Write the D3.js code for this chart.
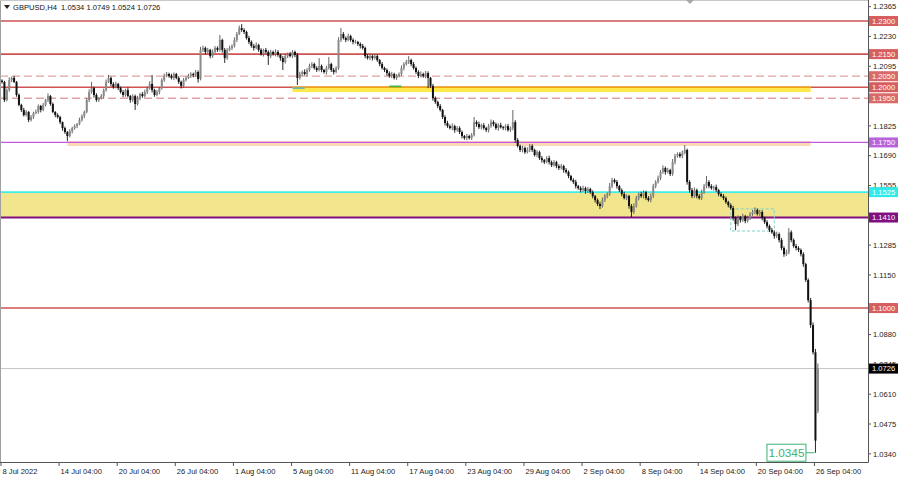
<!DOCTYPE html>
<html><head><meta charset="utf-8">
<script src="https://cdn.jsdelivr.net/npm/d3@7"></script>
<style>body{margin:0;background:#fff}svg{display:block}text{font-family:"Liberation Sans",Arial,sans-serif}</style>
</head><body><svg id="c" width="900" height="477"></svg>
<script>
// ---------- DATA ----------
const symbol = "GBPUSD,H4";
const headerValues = ["1.0534", "1.0749", "1.0524", "1.0726"];
const firstOpen = 12030; // pips (x 1e-4)
const lastBarOpen = 10534;
const closes = [
12024,11942,11987,12033,12042,12024,11965,11920,11897,11874,
11888,11852,11865,11883,11888,11915,11897,11920,11942,11960,
11924,11888,11874,11865,11842,11815,11797,11779,11801,11815,
11824,11833,11852,11870,11888,11942,11978,11996,11965,11942,
11951,11960,11987,12024,12042,12015,12001,12015,11996,11978,
11965,11987,11960,11942,11960,11924,11951,11969,11960,11978,
11996,12015,11987,11965,11978,11996,12033,12051,12060,12051,
12042,12060,12042,12024,12006,12033,12042,12051,12060,12055,
12069,12037,12169,12178,12160,12169,12141,12160,12178,12169,
12214,12169,12132,12169,12178,12187,12214,12241,12268,12259,
12250,12223,12205,12187,12178,12191,12169,12150,12169,12160,
12141,12160,12150,12160,12146,12132,12114,12141,12150,12141,
12160,12146,12042,12060,12069,12060,12078,12096,12105,12087,
12078,12096,12078,12069,12087,12105,12078,12069,12087,12214,
12241,12223,12214,12232,12214,12205,12205,12196,12187,12178,
12141,12132,12141,12132,12141,12123,12105,12087,12078,12064,
12051,12060,12042,12051,12060,12087,12105,12114,12123,12105,
12087,12069,12051,12060,12051,12064,12042,12006,11951,11933,
11915,11897,11865,11838,11824,11815,11824,11806,11815,11797,
11779,11770,11779,11770,11783,11842,11833,11819,11828,11815,
11806,11824,11842,11833,11815,11828,11819,11815,11824,11806,
11815,11842,11761,11734,11716,11725,11706,11716,11734,11716,
11693,11706,11679,11670,11661,11679,11661,11647,11661,11643,
11634,11643,11625,11616,11598,11580,11571,11552,11543,11534,
11543,11530,11539,11525,11507,11489,11471,11462,11489,11507,
11516,11552,11580,11571,11552,11534,11516,11498,11507,11462,
11435,11462,11498,11516,11507,11525,11498,11489,11507,11552,
11571,11589,11616,11634,11616,11625,11607,11661,11688,11697,
11688,11702,11716,11571,11534,11507,11534,11507,11498,11525,
11552,11571,11552,11543,11548,11534,11516,11507,11498,11480,
11466,11453,11408,11380,11408,11398,11416,11394,11408,11426,
11435,11444,11426,11435,11408,11389,11371,11353,11343,11326,
11335,11308,11272,11244,11253,11343,11308,11281,11272,11263,
11244,11199,11127,11036,10923,10800,10400,10726];
const wickHigh = [
6,5,8,12,6,9,4,7,5,10, 8,4,9,6,11,7,5,9,6,12, 5,7,4,8,6,3,7,5,9,6, 8,5,10,7,6,9,12,28,6,8,
5,9,7,11,14,6,8,10,5,7, 9,6,12,5,8,7,10,6,9,11, 7,12,40,6,9,5,8,11,9,6, 10,7,5,8,6,9,7,10,8,6,
9,7,14,10,6,9,5,11,8,7, 23,6,9,8,10,7,12,9,11,18, 8,6,10,7,9,12,6,8,5,9, 7,10,6,12,8,5,9,11,7,10,
8,6,9,10,7,12,8,11,9,6, 8,36,7,5,10,32,6,9,8,12, 27,9,7,11,6,8,10,5,7,9, 6,9,12,7,10,8,5,9,6,7,
8,10,6,9,7,11,8,10,18,6, 9,7,8,12,6,10,8,5,9,7, 6,9,5,8,10,7,12,6,9,8, 7,5,9,6,10,23,8,11,7,9,
6,10,12,8,7,9,11,6,8,10, 7,55,9,8,6,10,7,12,9,8, 6,9,7,10,5,8,11,7,9,6, 8,10,6,9,7,5,8,10,6,9,
11,7,9,6,8,5,7,10,12,9, 8,14,10,7,9,6,8,11,7,6, 9,12,10,7,11,8,6,9,12,10, 8,11,9,12,7,10,6,14,10,8,
9,11,22,6,8,10,12,7,9,11, 10,27,8,9,7,11,6,8,9,7, 6,8,10,7,12,9,11,6,10,8, 9,12,7,10,8,6,9,7,10,8,
11,7,9,8,12,19,9,7,10,8, 7,9,6,8,10,12,15,23];
const wickLow = [
8,9,6,7,10,5,8,6,9,7, 6,10,7,9,5,8,11,6,7,9, 8,6,10,7,9,12,8,23,6,10, 7,9,5,8,10,6,9,7,12,8,
9,6,10,7,5,11,8,6,9,7, 10,8,6,12,9,27,7,10,8,6, 9,7,11,8,6,10,7,9,5,8, 7,10,6,9,12,8,7,5,9,10,
8,16,6,9,11,7,10,8,6,9, 7,12,22,8,6,10,7,9,5,8, 9,7,10,8,12,6,9,7,11,8, 40,9,7,10,8,12,36,7,9,6,
8,10,32,7,9,6,11,8,10,7, 9,6,10,8,12,7,9,11,6,8, 9,7,10,6,8,11,7,9,12,8, 10,7,9,11,6,8,10,7,9,12,
8,10,7,9,6,8,11,7,9,10, 7,9,10,6,8,11,46,9,12,8, 10,7,9,11,8,6,10,12,7,9, 11,8,10,7,9,6,12,8,10,7,
9,11,7,10,8,12,6,9,11,7, 8,10,12,7,9,11,8,6,10,9, 7,10,8,12,9,6,11,8,7,10, 9,7,12,8,10,6,9,11,8,10,
7,12,9,8,10,11,9,14,7,8, 10,8,9,7,11,8,10,6,9,12, 23,9,7,10,8,11,9,7,10,8, 9,7,10,8,12,6,9,8,10,7,
8,10,6,12,11,9,8,10,7,9, 8,10,9,7,11,8,10,6,9,8, 10,8,12,27,9,11,8,10,7,9, 8,10,7,9,11,8,10,9,7,12,
9,11,10,12,8,9,10,8,11,9, 10,12,9,11,13,10,55,10];

const timeTickIndex = [0,24,48,72,96,120,144,168,192,216,240,264,288,312,336];
const timeTickLabels = ["8 Jul 2022","14 Jul 04:00","20 Jul 04:00","26 Jul 04:00","1 Aug 04:00",
  "5 Aug 04:00","11 Aug 04:00","17 Aug 04:00","23 Aug 04:00","29 Aug 04:00","2 Sep 04:00",
  "8 Sep 04:00","14 Sep 04:00","20 Sep 04:00","26 Sep 04:00"];
const priceTicks = [1.0340,1.0475,1.0610,1.0745,1.0880,1.1015,1.1150,1.1285,1.1420,1.1555,
  1.1690,1.1825,1.1960,1.2095,1.2230,1.2365];
const solidLevels = [1.2300, 1.2150, 1.2000, 1.1000];
const dashedLevels = [1.2050, 1.1950];
const violetLevel = 1.1750;
const zoneTop = 1.1525, zoneBottom = 1.1410;
const peachBand = {from: 27, to: 334, hi: 1.1756, lo: 1.1734};
const yellowBand = {from: 120, to: 334, hi: 1.2002, lo: 1.1987};
const tealMark = {from: 120, to: 125, price: 1.1996};
const greenMark = {from: 160, to: 165, price: 1.2004};
const dashedBox = {from: 301, to: 319, hi: 1.1449, lo: 1.1349};
const lastPrice = 1.0726;
const lowLabel = {index: 336, price: 1.0345, text: "1.0345"};

// ---------- BUILD OHLC ----------
const bars = closes.map((c, i) => {
  const o = i === 0 ? firstOpen : (i === closes.length - 1 ? lastBarOpen : closes[i - 1]);
  return {i, o: o / 1e4, c: c / 1e4,
    h: (Math.max(o, c) + wickHigh[i]) / 1e4, l: (Math.min(o, c) - wickLow[i]) / 1e4};
});

// ---------- LAYOUT ----------
const svg = d3.select("#c");
const plotR = 868, plotB = 462;
const x = d3.scaleLinear().domain([0, 337]).range([2, 2 + 2.421 * 337]);
const y = d3.scaleLinear().domain([1.0303, 1.2395]).range([plotB, 0]);
const red = "#d05252", redLbl = "#d75e5e";

const g = svg.append("g");
g.append("rect").attr("x", 0).attr("width", plotR).attr("y", y(zoneTop)).attr("height", y(zoneBottom) - y(zoneTop)).attr("fill", "#f1e58e");
g.append("rect").attr("x", x(peachBand.from)).attr("width", x(peachBand.to) - x(peachBand.from))
  .attr("y", y(peachBand.hi)).attr("height", y(peachBand.lo) - y(peachBand.hi)).attr("fill", "#fcd8b4");
dashedLevels.forEach(p => g.append("line").attr("x1", 0).attr("x2", plotR).attr("y1", y(p)).attr("y2", y(p))
  .attr("stroke", "#e2a4a4").attr("stroke-width", 1.3).attr("stroke-dasharray", "8,4"));
solidLevels.forEach(p => g.append("line").attr("x1", 0).attr("x2", plotR).attr("y1", y(p)).attr("y2", y(p))
  .attr("stroke", red).attr("stroke-width", 1.6));
g.append("rect").attr("x", x(yellowBand.from)).attr("width", x(yellowBand.to) - x(yellowBand.from))
  .attr("y", y(yellowBand.hi)).attr("height", y(yellowBand.lo) - y(yellowBand.hi) + 2).attr("fill", "#ffe84c");
g.append("line").attr("x1", x(yellowBand.from)).attr("x2", x(yellowBand.to)).attr("y1", y(1.2000)).attr("y2", y(1.2000))
  .attr("stroke", "#eda312").attr("stroke-width", 1.6);
g.append("line").attr("x1", x(tealMark.from)).attr("x2", x(tealMark.to)).attr("y1", y(tealMark.price)).attr("y2", y(tealMark.price))
  .attr("stroke", "#6fb7b0").attr("stroke-width", 1.8);
g.append("line").attr("x1", x(greenMark.from)).attr("x2", x(greenMark.to)).attr("y1", y(greenMark.price)).attr("y2", y(greenMark.price))
  .attr("stroke", "#4cb84c").attr("stroke-width", 1.8);
g.append("line").attr("x1", 0).attr("x2", plotR).attr("y1", y(violetLevel)).attr("y2", y(violetLevel)).attr("stroke", "#c15ae3").attr("stroke-width", 1.3);
g.append("line").attr("x1", 0).attr("x2", plotR).attr("y1", y(zoneTop)).attr("y2", y(zoneTop)).attr("stroke", "#3ceeee").attr("stroke-width", 1.6);
g.append("line").attr("x1", 0).attr("x2", plotR).attr("y1", y(zoneBottom)).attr("y2", y(zoneBottom)).attr("stroke", "#80107f").attr("stroke-width", 2);
g.append("rect").attr("x", x(dashedBox.from)).attr("width", x(dashedBox.to) - x(dashedBox.from))
  .attr("y", y(dashedBox.hi)).attr("height", y(dashedBox.lo) - y(dashedBox.hi))
  .attr("fill", "none").attr("stroke", "#7fd3c6").attr("stroke-width", 1).attr("stroke-dasharray", "3,2");
g.append("line").attr("x1", 0).attr("x2", plotR).attr("y1", y(lastPrice)).attr("y2", y(lastPrice)).attr("stroke", "#c4c4c4").attr("stroke-width", 1);

// candles
const cg = svg.append("g");
cg.selectAll("line.w").data(bars).join("line").attr("class", "w")
  .attr("x1", d => x(d.i)).attr("x2", d => x(d.i)).attr("y1", d => y(d.h)).attr("y2", d => y(d.l))
  .attr("stroke", d => d.c >= d.o ? "#555" : "#111").attr("stroke-width", 0.9);
cg.selectAll("rect.b").data(bars).join("rect").attr("class", "b")
  .attr("x", d => x(d.i) - 1).attr("width", 2)
  .attr("y", d => y(Math.max(d.o, d.c))).attr("height", d => Math.max(0.8, Math.abs(y(d.o) - y(d.c))))
  .attr("fill", d => d.c >= d.o ? "#8a8a8a" : "#111");

// low label
const lx = x(lowLabel.index), ly = y(lowLabel.price);
svg.append("line").attr("x1", lx - 9.5).attr("x2", lx - 1).attr("y1", ly).attr("y2", ly).attr("stroke", "#3cb371").attr("stroke-width", 1);
svg.append("rect").attr("x", lx - 48.5).attr("y", ly - 8.5).attr("width", 39).attr("height", 17)
  .attr("fill", "#fff").attr("stroke", "#3cb371").attr("stroke-width", 1);
svg.append("text").attr("x", lx - 29).attr("y", ly + 4.2).attr("text-anchor", "middle")
  .attr("font-size", 11.8).attr("fill", "#3cb371").text(lowLabel.text);

// frame
svg.append("line").attr("x1", 0.5).attr("x2", 0.5).attr("y1", 0).attr("y2", plotB).attr("stroke", "#a0a0a0");
svg.append("line").attr("x1", 0).attr("x2", plotR).attr("y1", 0.5).attr("y2", 0.5).attr("stroke", "#c8c8c8");
svg.append("line").attr("x1", plotR + 0.5).attr("x2", plotR + 0.5).attr("y1", 0).attr("y2", plotB + 0.5).attr("stroke", "#555");
svg.append("line").attr("x1", 0).attr("x2", plotR + 0.5).attr("y1", plotB + 0.5).attr("y2", plotB + 0.5).attr("stroke", "#555");
svg.append("path").attr("d", "M686,0 L694,0 L690,4 Z").attr("fill", "#a8a8a8");

// right axis ticks
const fs = 7.6;
const ra = svg.append("g");
priceTicks.forEach(p => {
  ra.append("line").attr("x1", plotR).attr("x2", plotR + 3).attr("y1", y(p)).attr("y2", y(p)).attr("stroke", "#555");
  ra.append("text").attr("x", plotR + 5).attr("y", y(p) + 2.8).attr("font-size", fs).attr("fill", "#222").text(p.toFixed(4));
});
function tag(p, bg, fg) {
  ra.append("rect").attr("x", plotR + 1).attr("y", y(p) - 5).attr("width", 29).attr("height", 10).attr("fill", bg);
  ra.append("text").attr("x", plotR + 4).attr("y", y(p) + 2.8).attr("font-size", fs).attr("fill", fg).text(p.toFixed(4));
}
solidLevels.forEach(p => tag(p, redLbl, "#fff"));
dashedLevels.forEach(p => tag(p, "#d96a6a", "#fff"));
tag(violetLevel, "#b963db", "#fff");
tag(zoneTop, "#30eaea", "#fff");
tag(zoneBottom, "#80107f", "#fff");
tag(lastPrice, "#000", "#fff");

// bottom axis
const ba = svg.append("g");
timeTickIndex.forEach((idx, k) => {
  const tx = Math.max(0.5, x(idx) - 1);
  ba.append("line").attr("x1", tx).attr("x2", tx).attr("y1", plotB).attr("y2", plotB + 4).attr("stroke", "#555");
  ba.append("text").attr("x", tx + 1.5).attr("y", plotB + 12).attr("font-size", fs).attr("fill", "#222").text(timeTickLabels[k]);
});

// header
svg.append("path").attr("d", "M4,5 L10,5 L7,9 Z").attr("fill", "#222");
svg.append("text").attr("x", 13).attr("y", 10).attr("font-size", fs).attr("fill", "#111")
  .attr("xml:space", "preserve").text(symbol + "  " + headerValues.join(" "));
</script></body></html>
